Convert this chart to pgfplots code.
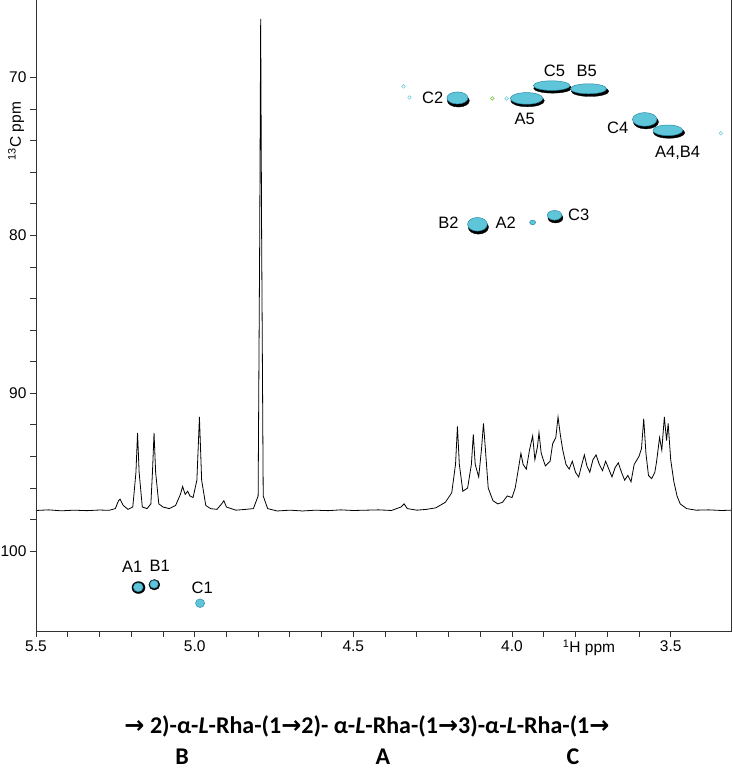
\documentclass[border=0pt]{standalone}
\usepackage{fontspec}
\setmainfont{Liberation Sans}
\newfontfamily\carlito{Carlito}
\newfontfamily\dejavu{DejaVu Sans}
\usepackage{pgfplots}
\pgfplotsset{compat=1.18}
\definecolor{cyfill}{RGB}{95,198,218}
\definecolor{cyedge}{RGB}{40,140,170}
\definecolor{cylight}{RGB}{120,205,225}
\definecolor{grn}{RGB}{110,200,60}
\pgfplotsset{
  shadow/.style 2 args={only marks, mark=*, mark size=#1, mark options={xscale=#2, fill=black, draw=black, line width=0.3pt}},
  pk/.style 2 args={only marks, mark=*, mark size=#1, mark options={xscale=#2, fill=cyfill, draw=cyedge, line width=0.5pt}},
  ring/.style 2 args={only marks, mark=o, mark size=#1, mark options={draw=#2, line width=0.6pt}},
}
\begin{document}
\begin{tikzpicture}
\useasboundingbox (-36pt,-141pt) rectangle (697pt,631pt);
\begin{axis}[
  scale only axis, width=695pt, height=631pt,
  at={(0,0)}, anchor=south west,
  xmin=3.31, xmax=5.5, ymin=65.1, ymax=105.05,
  x dir=reverse, y dir=reverse,
  axis line style={draw=none},
  xtick={3.5,4.0,4.5,5.0,5.5}, xticklabels={3.5,4.0,4.5,5.0,5.5},
  minor x tick num=4,
  ytick={70,80,90,100}, yticklabels={70,80,90,100},
  minor y tick num=4,
  xtick pos=left, ytick pos=left,
  tick align=outside,
  major tick length=6pt, minor tick length=6pt,
  every tick/.style={black!80, line width=0.8pt},
  ticklabel style={font=\fontsize{15.5}{16}\selectfont},
]
% 1H spectrum
\addplot[black, line width=0.8pt, sharp plot, mark=none] coordinates {
(5.50,97.42) (5.46,97.38) (5.42,97.44) (5.38,97.40) (5.34,97.43) (5.30,97.39) (5.27,97.41)
(5.25,97.3) (5.24,96.8) (5.235,96.7) (5.225,97.1) (5.21,97.35) (5.195,97.2)
(5.185,95.0) (5.180,92.5) (5.175,95.0) (5.165,97.2) (5.15,97.3) (5.138,97.0)
(5.133,95.0) (5.128,92.5) (5.123,95.0) (5.113,97.0) (5.10,97.2) (5.08,97.3)
(5.06,97.1) (5.045,96.4) (5.038,95.9) (5.03,96.4) (5.022,96.2) (5.015,96.5)
(5.005,96.6) (4.993,95.5) (4.985,91.5) (4.978,95.5) (4.965,97.1) (4.95,97.3)
(4.93,97.35) (4.915,97.0) (4.908,96.8) (4.90,97.2) (4.87,97.4) (4.84,97.35)
(4.815,97.3) (4.80,96.5) (4.795,80) (4.792,66.3) (4.789,80) (4.784,96.5)
(4.77,97.3) (4.74,97.45) (4.70,97.4) (4.66,97.45) (4.62,97.4) (4.58,97.43)
(4.54,97.38) (4.50,97.42) (4.46,97.4) (4.42,97.38) (4.38,97.42) (4.35,97.2)
(4.34,97.0) (4.33,97.3) (4.30,97.4) (4.27,97.35) (4.24,97.25) (4.21,96.9)
(4.19,96.3) (4.178,94.5) (4.172,92.1) (4.166,94.5) (4.155,96.2) (4.14,96.0)
(4.128,94.5) (4.122,92.6) (4.116,94.5) (4.105,95.3) (4.096,93.5) (4.09,91.9)
(4.084,93.5) (4.075,96.0) (4.06,96.8) (4.045,97.0) (4.03,96.9) (4.015,96.5)
(4.00,96.6) (3.99,96.0) (3.98,94.8) (3.972,93.8) (3.965,94.5) (3.955,94.8)
(3.945,93.6) (3.935,92.7) (3.928,94.2) (3.92,93.4) (3.915,92.5) (3.908,93.8)
(3.895,94.6) (3.88,94.3) (3.872,93.2) (3.862,92.8) (3.855,91.5) (3.848,92.6)
(3.84,93.6) (3.83,94.5) (3.82,94.8) (3.81,94.3) (3.80,95.0) (3.79,95.3)
(3.78,94.5) (3.772,93.9) (3.764,94.6) (3.755,95.0) (3.745,94.2) (3.735,93.9)
(3.725,94.5) (3.715,94.9) (3.705,94.3) (3.695,94.8) (3.685,95.3) (3.675,94.7)
(3.665,94.4) (3.655,95.0) (3.645,95.5) (3.635,95.2) (3.625,95.6) (3.615,94.5)
(3.600,94.0) (3.592,93.5) (3.585,91.6) (3.578,93.8) (3.57,95.2) (3.56,95.4)
(3.55,95.0) (3.545,94.4) (3.535,92.8) (3.528,93.6) (3.52,91.5) (3.513,93.0)
(3.508,91.9) (3.50,94.2) (3.49,95.6) (3.48,96.5) (3.47,97.0) (3.45,97.3)
(3.42,97.4) (3.38,97.38) (3.34,97.42) (3.31,97.4)
};
% HSQC cross peaks: dark contour shadows
\addplot[shadow={6.3}{1.75}] coordinates {(4.169,71.48)};
\addplot[shadow={6.0}{1.1}] coordinates {(5.177,102.3)};
\addplot[shadow={5.3}{1.05}] coordinates {(5.127,102.12)};
\addplot[shadow={7.0}{1.45}] coordinates {(4.106,79.48)};
\addplot[shadow={5.0}{1.5}] coordinates {(3.863,78.9)};
\addplot[shadow={6.0}{2.8}] coordinates {(3.951,71.48)};
\addplot[shadow={5.0}{3.8}] coordinates {(3.872,70.68)};
\addplot[shadow={5.2}{3.6}] coordinates {(3.754,70.88)};
\addplot[shadow={7.0}{1.8}] coordinates {(3.578,72.82)};
\addplot[shadow={5.6}{2.8}] coordinates {(3.505,73.5)};
% cyan contours
\addplot[pk={6.0}{1.75}] coordinates {(4.172,71.3)};
\addplot[pk={4.5}{1.1}] coordinates {(5.178,102.28)};
\addplot[pk={4.0}{1.05}] coordinates {(5.128,102.09)};
\addplot[pk={4.3}{1.05}] coordinates {(4.983,103.29)};
\addplot[pk={6.8}{1.45}] coordinates {(4.109,79.3)};
\addplot[pk={2.3}{1.3}] coordinates {(3.935,79.18)};
\addplot[pk={4.8}{1.5}] coordinates {(3.866,78.73)};
\addplot[pk={5.8}{2.8}] coordinates {(3.954,71.33)};
\addplot[pk={4.8}{3.8}] coordinates {(3.875,70.52)};
\addplot[pk={5.0}{3.6}] coordinates {(3.759,70.72)};
\addplot[pk={6.8}{1.8}] coordinates {(3.582,72.66)};
\addplot[pk={5.3}{2.8}] coordinates {(3.509,73.35)};
% small rings
\addplot[ring={1.8}{cylight}] coordinates {(4.342,70.57) (4.323,71.27) (4.017,71.33) (3.342,73.54)};
\addplot[ring={1.8}{grn}] coordinates {(4.062,71.33)};
% labels
\begin{scope}[every node/.style={font=\fontsize{16.5}{17}\selectfont, inner sep=0pt}]
\node at (axis cs:5.197,101.0) {A1};
\node at (axis cs:5.11,100.95) {B1};
\node at (axis cs:4.976,102.3) {C1};
\node at (axis cs:4.25,71.3) {C2};
\node at (axis cs:3.96,72.6) {A5};
\node at (axis cs:3.866,69.56) {C5};
\node at (axis cs:3.765,69.56) {B5};
\node at (axis cs:3.667,73.2) {C4};
\node at (axis cs:3.478,74.75) {A4,B4};
\node at (axis cs:4.20,79.2) {B2};
\node at (axis cs:4.02,79.2) {A2};
\node at (axis cs:3.79,78.7) {C3};
\end{scope}
\end{axis}
\draw[black!80, line width=0.9pt] (0,631pt) -- (0,0) -- (695pt,0) -- (695pt,631pt);
\node[rotate=90, font=\fontsize{15.5}{16}\selectfont] at (-20pt,500pt) {\textsuperscript{13}C ppm};
\node[font=\fontsize{15.5}{16}\selectfont] at (553pt,-17pt) {\textsuperscript{1}H ppm};
\node[anchor=base, font=\carlito\bfseries\fontsize{24}{24}\selectfont] at (331pt,-102pt)
  {{\dejavu\bfseries →} 2)-α-\textit{L}-Rha-(1{\dejavu\bfseries →}2)- α-\textit{L}-Rha-(1{\dejavu\bfseries →}3)-α-\textit{L}-Rha-(1{\dejavu\bfseries →}};
\begin{scope}[every node/.style={anchor=base, font=\carlito\bfseries\fontsize{24}{24}\selectfont}]
\node at (146pt,-133pt) {B};
\node at (347pt,-133pt) {A};
\node at (537pt,-133pt) {C};
\end{scope}
\end{tikzpicture}
\end{document}
